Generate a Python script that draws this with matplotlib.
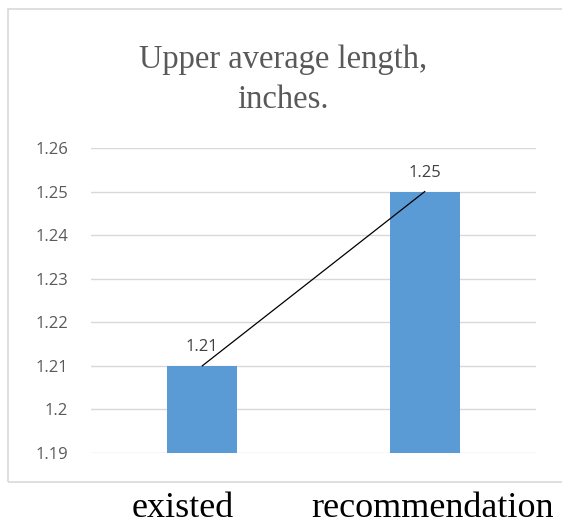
import matplotlib.pyplot as plt
from matplotlib.patches import Rectangle

categories = ['existed', 'recommendation']
values = [1.21, 1.25]
yticks = [1.19, 1.2, 1.21, 1.22, 1.23, 1.24, 1.25, 1.26]
ytick_labels = ['1.19', '1.2', '1.21', '1.22', '1.23', '1.24', '1.25', '1.26']

fig = plt.figure(figsize=(5.62, 5.26), dpi=100)
ax = fig.add_axes([91/562, 73/526, 445/562, 305/526])

# chart border box
fig.patches.append(Rectangle((8/562, 44/526), 560/562, 473/526, transform=fig.transFigure,
                             fill=False, edgecolor='#d9d9d9', linewidth=1.2))

x = [0, 1]
ax.bar(x, values, width=0.315, color='#5b9bd5', zorder=3)
ax.plot(x, values, color='black', linewidth=0.9, zorder=4)
for xi, v in zip(x, values):
    ax.text(xi, v + 0.0025, str(v), ha='center', va='bottom', fontsize=12,
            color='#404040', family='Open Sans')

ax.set_xlim(-0.5, 1.5)
ax.set_ylim(1.19, 1.26)
ax.set_yticks(yticks)
ax.set_yticklabels(ytick_labels, fontsize=12, color='#595959', family='Open Sans')
ax.set_xticks([])
ax.tick_params(axis='y', length=0, pad=16.5)
ax.grid(axis='y', color='#d9d9d9', linewidth=1, zorder=0)
for s in ax.spines.values():
    s.set_visible(False)

fig.text(283/562, 1 - 108/526, 'Upper average length,\ninches.', ha='center', va='baseline',
         fontsize=23.5, color='#595959', family='Liberation Serif', linespacing=1.4)

# category names sit below the chart box, as separate text
fig.text(183/562, 1 - 517/526, categories[0], ha='center', va='baseline', fontsize=26,
         color='black', family='Liberation Serif')
fig.text(432/562, 1 - 517/526, categories[1], ha='center', va='baseline', fontsize=26,
         color='black', family='Liberation Serif')

fig.savefig('out.png', dpi=100)
